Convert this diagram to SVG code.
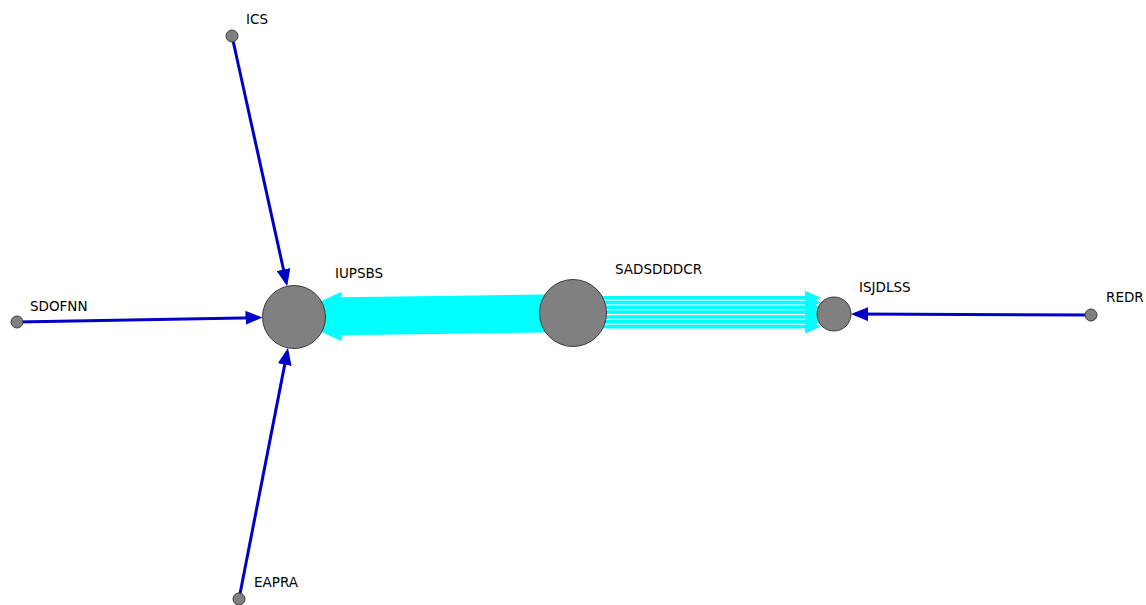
<svg xmlns="http://www.w3.org/2000/svg" width="1146" height="605" viewBox="0 0 1146 605">
<style>
.node{fill:#808080;stroke:#3a3a3a;stroke-width:1}
.lbl{font-family:"DejaVu Sans","Liberation Sans",sans-serif;font-size:13.5px;fill:#000}
.blue{stroke:#0000c8;stroke-width:3;fill:none}
.cy{fill:#00ffff}
.stripe{stroke:#00ffff;stroke-width:3.7;fill:none}
</style>
<defs>
<marker id="arrB" viewBox="0 0 17 14" refX="13" refY="7" markerWidth="17" markerHeight="14" markerUnits="userSpaceOnUse" orient="auto">
<path d="M0,0 L17,7 L0,14 z" fill="#0000c8"/>
</marker>
<marker id="arrC" viewBox="0 0 16 14" refX="3" refY="7" markerWidth="16" markerHeight="14" markerUnits="userSpaceOnUse" orient="auto">
<path d="M0,0 L16,7 L0,14 z" fill="#00ffff"/>
</marker>
</defs>
<rect width="1146" height="605" fill="#fff"/>
<g id="edges">
<polygon class="cy" points="573,294 341,297.3 341,292 288,316.5 341,341 341,335.3 573,332"/>
<line class="stripe" x1="573" y1="297.8" x2="808" y2="297.8" marker-end="url(#arrC)"/>
<line class="stripe" x1="573" y1="302.6" x2="808" y2="302.6" marker-end="url(#arrC)"/>
<line class="stripe" x1="573" y1="307.4" x2="808" y2="307.4" marker-end="url(#arrC)"/>
<line class="stripe" x1="573" y1="312.2" x2="808" y2="312.2" marker-end="url(#arrC)"/>
<line class="stripe" x1="573" y1="317.0" x2="808" y2="317.0" marker-end="url(#arrC)"/>
<line class="stripe" x1="573" y1="321.8" x2="808" y2="321.8" marker-end="url(#arrC)"/>
<line class="stripe" x1="573" y1="326.6" x2="808" y2="326.6" marker-end="url(#arrC)"/>
<line class="blue" x1="232" y1="36" x2="286.3" y2="282.3" marker-end="url(#arrB)"/>
<line class="blue" x1="17" y1="322" x2="258.5" y2="317.6" marker-end="url(#arrB)"/>
<line class="blue" x1="239" y1="599" x2="287.2" y2="351.9" marker-end="url(#arrB)"/>
<line class="blue" x1="1091" y1="315" x2="855" y2="314.1" marker-end="url(#arrB)"/>
</g>
<g id="IUPSBS"><circle class="node" cx="294" cy="317" r="31.5"/><text class="lbl" x="335" y="278">IUPSBS</text></g>
<g id="SADSDDDCR"><circle class="node" cx="573" cy="313" r="33.5"/><text class="lbl" x="615" y="274">SADSDDDCR</text></g>
<g id="ISJDLSS"><circle class="node" cx="834" cy="314" r="17"/><text class="lbl" x="859" y="292">ISJDLSS</text></g>
<g id="REDR"><circle class="node" cx="1091" cy="315" r="6"/><text class="lbl" x="1106" y="302">REDR</text></g>
<g id="SDOFNN"><circle class="node" cx="17" cy="322" r="6"/><text class="lbl" x="30" y="311">SDOFNN</text></g>
<g id="ICS"><circle class="node" cx="232" cy="36" r="6"/><text class="lbl" x="246" y="24">ICS</text></g>
<g id="EAPRA"><circle class="node" cx="239" cy="599" r="6"/><text class="lbl" x="254" y="587">EAPRA</text></g>
</svg>
